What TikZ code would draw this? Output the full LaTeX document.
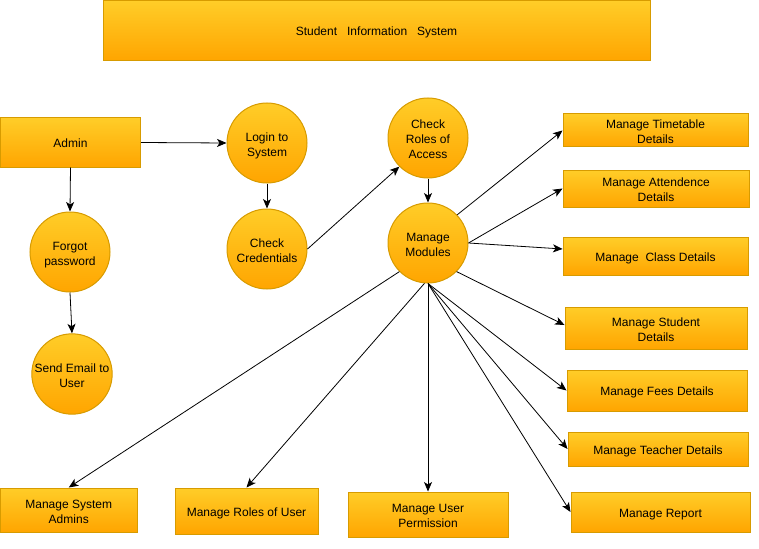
\documentclass[tikz,border=0pt]{standalone}
\usepackage{fontspec}
\setmainfont{Liberation Sans}
\usetikzlibrary{arrows.meta}
\definecolor{topC}{HTML}{FFCD28}
\definecolor{botC}{HTML}{FFA500}
\definecolor{strokeC}{HTML}{D79B00}
\newcommand{\mlt}[1]{\raisebox{-2.7pt}[\height][\depth]{\begin{tabular}{@{}c@{}}#1\end{tabular}}}
\begin{document}
\begin{tikzpicture}[x=1pt,y=-1pt,
  every node/.style={font=\fontsize{12}{15}\selectfont, align=center, inner sep=0pt,
    execute at begin node={\rule{0pt}{13pt}},
    execute at end node={\rule[-2.4pt]{0pt}{0pt}}},
  box/.style={rectangle, draw=strokeC, line width=1pt, top color=topC, bottom color=botC},
  proc/.style={circle, draw=strokeC, line width=1pt, top color=topC, bottom color=botC, minimum size=80pt},
  arr/.style={draw=black, line width=0.8pt, -{Stealth[length=9.5pt,width=8pt,inset=2.5pt]}}
]
\useasboundingbox (0,0) rectangle (759,548);

% title
\node[box, minimum width=547pt, minimum height=60pt] (title) at (376.5,30.5) {Student\ \ \ Information\ \ \ System};

% left column
\node[box, minimum width=140pt, minimum height=49pt] (admin) at (70.5,142.5) {Admin};
\node[proc] (forgot) at (70,252) {\mlt{Forgot\\password}};
\node[proc] (email) at (72,374) {\mlt{Send Email to\\User}};

% middle column
\node[proc] (login) at (267,143) {\mlt{Login to\\System}};
\node[proc] (cred) at (267,249) {\mlt{Check\\Credentials}};
\node[proc] (roles) at (428,138) {\mlt{Check\\Roles of\\Access}};
\node[proc] (mods) at (428,243) {\mlt{Manage\\Modules}};

% right column
\node[box, minimum width=185pt, minimum height=33pt] (tt) at (655.5,130.5) {\mlt{Manage Timetable\\Details}};
\node[box, minimum width=186pt, minimum height=37pt] (att) at (656,188.5) {\mlt{Manage Attendence\\Details}};
\node[box, minimum width=185pt, minimum height=38pt] (cls) at (655.5,256) {Manage\ \ Class Details};
\node[box, minimum width=182pt, minimum height=42pt] (stu) at (656,328) {\mlt{Manage Student\\Details}};
\node[box, minimum width=180pt, minimum height=41pt] (fee) at (657,390.5) {Manage Fees Details};
\node[box, minimum width=180pt, minimum height=34pt] (tea) at (658,449) {Manage Teacher Details};
\node[box, minimum width=179pt, minimum height=40pt] (rep) at (660.5,512) {Manage Report};

% bottom row
\node[box, minimum width=136.5pt, minimum height=44pt] (sadm) at (68.75,510) {\mlt{Manage System\\Admins}};
\node[box, minimum width=143pt, minimum height=46pt] (rol) at (246.5,511) {Manage Roles of User};
\node[box, minimum width=160pt, minimum height=45pt] (per) at (428,514.5) {\mlt{Manage User\\Permission}};

% connectors
\draw[arr] (admin.east) -- (login.west);
\draw[arr] (admin.south) -- (forgot.north);
\draw[arr] (forgot.south) -- (email.north);
\draw[arr] (login.south) -- (cred.north);
\draw[arr] (cred.east) -- (roles.225);
\draw[arr] (roles.south) -- (mods.north);

\draw[arr] (mods.44) -- (tt.west);
\draw[arr] (mods.east) -- (att.west);
\draw[arr] (mods.east) -- ([yshift=7pt]cls.west);
\draw[arr] (mods.-45) -- ([yshift=3pt]stu.west);
\draw[arr] (mods.south) -- (fee.west);
\draw[arr] (mods.south) -- (tea.west);
\draw[arr] (mods.south) -- (rep.west);
\draw[arr] (mods.south) -- (per.north);
\draw[arr] (mods.265) -- (rol.north);
\draw[arr] (mods.225) -- (sadm.north);
\end{tikzpicture}
\end{document}
